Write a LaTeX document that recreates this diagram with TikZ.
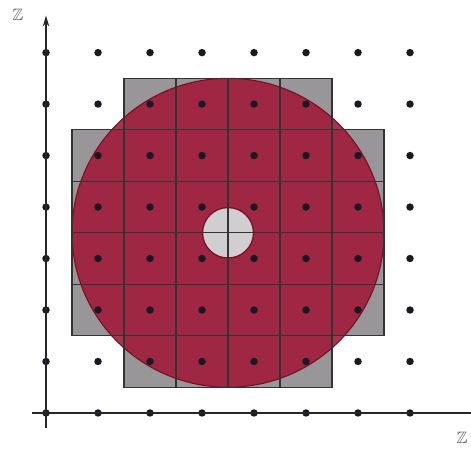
\documentclass[tikz,border=0pt]{standalone}
\usepackage{amsmath,amssymb}
\usepackage{xcolor}
\usepackage{tikz}
\usetikzlibrary{arrows.meta}

\definecolor{diskred}{RGB}{160,28,58}
\definecolor{diskedge}{RGB}{120,15,35}
\definecolor{cellgray}{RGB}{152,150,152}
\definecolor{holegray}{RGB}{208,206,208}
\definecolor{dotcol}{RGB}{25,25,35}

\tikzset{
    cell/.style={fill=cellgray,draw=black!70,line width=0.7pt},
    disk/.style={fill=diskred,fill opacity=0.9,draw=diskedge,line width=0.6pt},
    hole/.style={fill=holegray,draw=diskedge,line width=0.7pt},
    gridline/.style={draw=black!80,line width=0.7pt},
    dot/.style={fill=dotcol},
    axis/.style={line width=0.8pt,black!85},
    zlabel/.style={font=\small,text=black!65}
}

\begin{document}
\begin{tikzpicture}[x=1cm,y=0.99cm]
    \useasboundingbox (-0.885cm,-0.692cm) rectangle (8.173cm,7.942cm);

    % Grey cells (rows with their first and last column)
    \foreach \j/\from/\to in {1/2/5, 2/1/6, 3/1/6, 4/1/6, 5/1/6, 6/2/5} {
        \foreach \i in {\from,...,\to} {
            \filldraw[cell] (\i-0.5,\j-0.5) rectangle ++(1,1);
        }
    }

    % Disk and hole
    \filldraw[disk] (3.5,3.5) circle[radius=3];
    \filldraw[hole] (3.5,3.5) circle[radius=0.49];

    % Cell lines on top of the disk
    \foreach \j/\from/\to in {1/2/5, 2/1/6, 3/1/6, 4/1/6, 5/1/6, 6/2/5} {
        \foreach \i in {\from,...,\to} {
            \draw[gridline] (\i-0.5,\j-0.5) rectangle ++(1,1);
        }
    }

    % Lattice points
    \foreach \i in {0,...,7} {
        \foreach \j in {0,...,7} {
            \fill[dot] (\i,\j) circle[radius=0.072];
        }
    }

    % Axes
    \coordinate (xstart) at (-0.27,0);
    \coordinate (xend) at (8.17,0);
    \coordinate (ystart) at (0,-0.29);
    \coordinate (yend) at (0,7.72);
    \draw[axis] (xstart) -- (xend);
    \draw[axis,-{Stealth[length=6pt,width=3.5pt]}] (ystart) -- (yend);

    % Axis labels
    \node[zlabel] (zy) at (-0.54,7.74) {$\mathbb{Z}$};
    \node[zlabel] (zx) at (8.0,-0.49) {$\mathbb{Z}$};
\end{tikzpicture}
\end{document}
